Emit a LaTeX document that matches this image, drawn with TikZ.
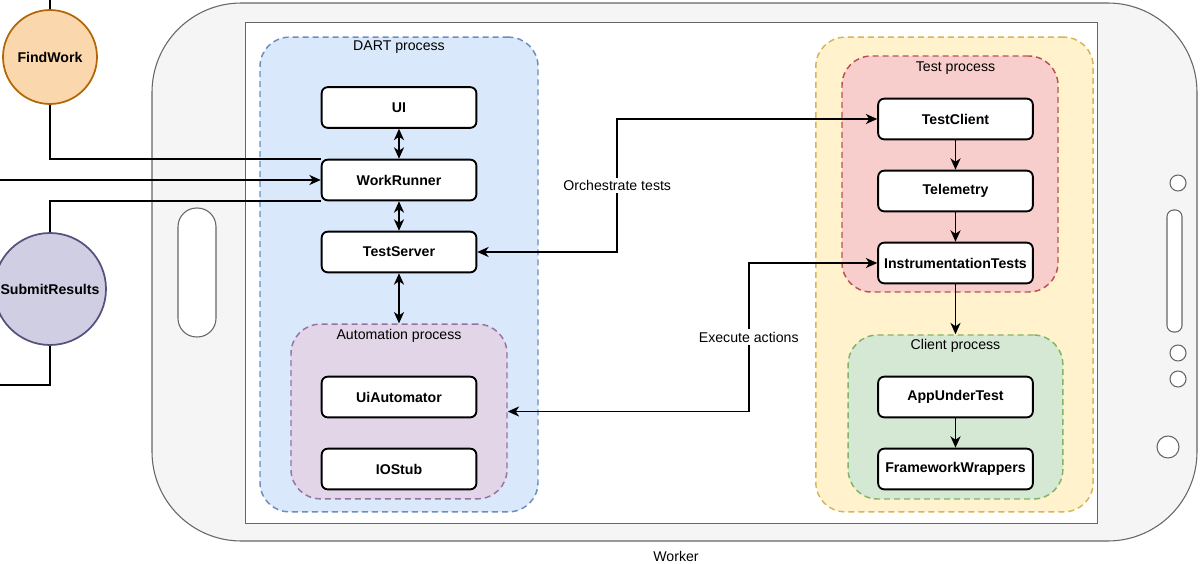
\documentclass[tikz,border=0pt]{standalone}
\usepackage{fontspec}
\setmainfont{Liberation Sans}
\usepackage{tikz}
\usetikzlibrary{arrows.meta}
\usetikzlibrary{positioning}
\definecolor{phonefill}{HTML}{F5F5F5}
\definecolor{phoneline}{HTML}{666666}
\definecolor{dartfill}{HTML}{DAE8FC}
\definecolor{dartline}{HTML}{6C8EBF}
\definecolor{autofill}{HTML}{E1D5E7}
\definecolor{autoline}{HTML}{9673A6}
\definecolor{hostfill}{HTML}{FFF2CC}
\definecolor{hostline}{HTML}{D6B656}
\definecolor{testfill}{HTML}{F8CECC}
\definecolor{testline}{HTML}{B85450}
\definecolor{clientfill}{HTML}{D5E8D4}
\definecolor{clientline}{HTML}{82B366}
\definecolor{findfill}{HTML}{FAD7AC}
\definecolor{findline}{HTML}{B46504}
\definecolor{submitfill}{HTML}{D0CEE2}
\definecolor{submitline}{HTML}{56517E}

\begin{document}
\begin{tikzpicture}[
x=0.75pt,y=-0.75pt,
every node/.style={font=\fontsize{10.6}{12}\selectfont},
MyBoxes/.style={draw=black,fill=white,line width=1.4pt,rounded corners=4.5pt,
  minimum width=116pt,minimum height=30.5pt,inner sep=1pt,
  font=\fontsize{10.6}{12}\selectfont\bfseries},
MyGroups/.style={dashed,line width=1.1pt,dash pattern=on 4.5pt off 3pt,
  rounded corners=22pt,inner sep=0pt},
MyCircles/.style={circle,line width=1.3pt,inner sep=0pt,
  font=\fontsize{10.6}{12}\selectfont\bfseries},
Links/.style={draw=black,line width=1.4pt},
OneWay/.style={Links,-{Stealth[length=8.5pt,width=7.5pt,inset=2.5pt]}},
TwoWay/.style={Links,{Stealth[length=8.5pt,width=7.5pt,inset=2.5pt]}-{Stealth[length=8.5pt,width=7.5pt,inset=2.5pt]}}
]
\useasboundingbox (0,0) rectangle (1200,564);

% the phone
\draw[fill=phonefill,draw=phoneline,line width=0.8pt,rounded corners=67pt] (152,3) rectangle (1197,541);
\draw[fill=white,draw=phoneline,line width=0.75pt] (245,22) rectangle (1097,523);
\draw[fill=white,draw=phoneline,line width=0.8pt,rounded corners=14pt] (178,208) rectangle (216,337);
\draw[fill=white,draw=phoneline,line width=0.8pt,rounded corners=5pt] (1167,210) rectangle (1182,332);
\draw[fill=white,draw=phoneline,line width=0.8pt] (1178,183) circle (8);
\draw[fill=white,draw=phoneline,line width=0.8pt] (1178,353) circle (8);
\draw[fill=white,draw=phoneline,line width=0.8pt] (1178,379) circle (8);
\draw[fill=white,draw=phoneline,line width=0.8pt] (1168,447) circle (11);
\node (worker) at (676,556) {Worker};

% DART process
\node[MyGroups,draw=dartline,fill=dartfill,minimum width=208.5pt,minimum height=356pt] (dart) at (399,274.5) {};
\node (dartlabel) at (399,47) {DART process};
\node[MyGroups,draw=autoline,fill=autofill,minimum width=162pt,minimum height=131pt] (auto) at (399,411.5) {};
\node (autolabel) at (399,336) {Automation process};

\node[MyBoxes] (ui) at (399,107.5) {UI};
\node[MyBoxes] (wr) at (399,180) {WorkRunner};
\node[MyBoxes] (ts) at (399,252) {TestServer};
\node[MyBoxes] (uia) at (399,397) {UiAutomator};
\node[MyBoxes] (io) at (399,469) {IOStub};

% host with the test and client processes
\node[MyGroups,draw=hostline,fill=hostfill,minimum width=208pt,minimum height=356pt] (host) at (954.5,274.5) {};
\node[MyGroups,draw=testline,fill=testfill,minimum width=162pt,minimum height=177pt] (test) at (950,174) {};
\node (testlabel) at (955.5,68) {Test process};
\node[MyGroups,draw=clientline,fill=clientfill,minimum width=161pt,minimum height=123pt] (client) at (955.5,417) {};
\node (clientlabel) at (955.5,346) {Client process};

\node[MyBoxes] (tc) at (955.5,119) {TestClient};
\node[MyBoxes] (tm) at (955.5,191) {Telemetry};
\node[MyBoxes] (it) at (955.5,263) {InstrumentationTests};
\node[MyBoxes] (aut) at (955.5,397) {AppUnderTest};
\node[MyBoxes] (fw) at (955.5,469) {FrameworkWrappers};

% links inside the phone
\draw[TwoWay] (ui) -- (wr);
\draw[TwoWay] (wr) -- (ts);
\draw[TwoWay] (ts) -- (auto);
\draw[OneWay] (tc) -- (tm);
\draw[OneWay] (tm) -- (it);
\draw[OneWay] (it) -- (client);
\draw[OneWay] (aut) -- (fw);

\draw[TwoWay] (ts.east) -- ++(140,0) |- node[pos=0.25,fill=white,inner sep=2pt]{Orchestrate tests} (tc.west);
\draw[TwoWay] (auto.east) -- ++(241,0) |- node[pos=0.25,fill=white,inner sep=2pt]{Execute actions} (it.west);

% outside the phone
\node[MyCircles,draw=findline,fill=findfill,minimum size=70.5pt] (find) at (50,57) {FindWork};
\node[MyCircles,draw=submitline,fill=submitfill,minimum size=84pt] (submit) at (50,289) {SubmitResults};
\coordinate (findtop) at (50,0);
\coordinate (inleft) at (0,180);
\coordinate (outleft) at (0,385);

\draw[Links] (find.north) -- (findtop);
\draw[Links] (find.south) |- ([yshift=-0.5pt]wr.north west);
\draw[OneWay] (inleft) -- (wr.west);
\draw[Links] (submit.north) |- ([yshift=0.5pt]wr.south west);
\draw[Links] (submit.south) |- (outleft);

\end{tikzpicture}
\end{document}
